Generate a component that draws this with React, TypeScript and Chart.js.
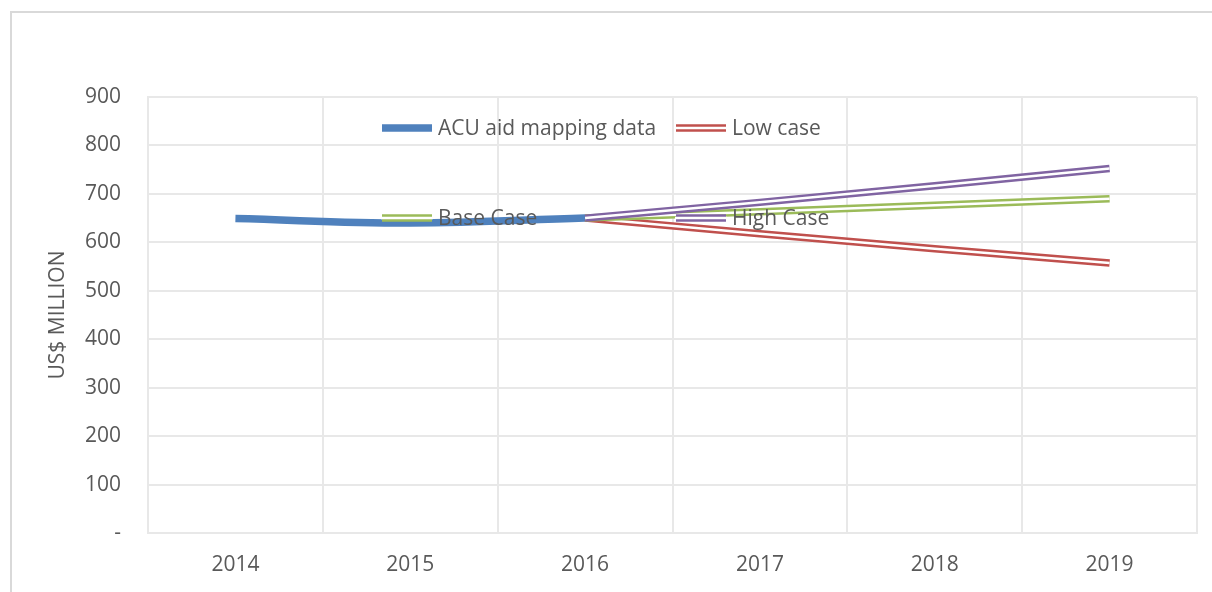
import React, { useEffect, useRef } from 'react';
import { Chart, registerables } from 'chart.js';

Chart.register(...registerables);

// ---- data ----
const years: string[] = ['2014', '2015', '2016', '2017', '2018', '2019'];
const acuAidMapping: (number | null)[] = [649, 640, 650, null, null, null];
const lowCase: (number | null)[] = [null, null, 650, 617.5, 586.6, 557.3];
const baseCase: (number | null)[] = [null, null, 650, 663.0, 676.3, 689.8];
const highCase: (number | null)[] = [null, null, 650, 682.5, 716.6, 752.4];
const yTickValues: number[] = [0, 100, 200, 300, 400, 500, 600, 700, 800, 900];
const seriesNames: string[] = ['ACU aid mapping data', 'Low case', 'Base Case', 'High Case'];
const yTitle = 'US$ MILLION';

// ---- styles ----
const FONT = '"Open Sans", "Liberation Sans", sans-serif';
const FONT_SIZE = 21;
const TEXT = '#595959';
const GRID = '#e8e8e8';
const BLUE = '#4F81BD';
const RED = '#C0504D';
const GREEN = '#9BBB59';
const PURPLE = '#8064A2';
const OUTER_W = 7.5;
const INNER_W = 2.5;

const legendSpec = [
  { name: seriesNames[0], color: BLUE, double: false, x: 382, y: 128 },
  { name: seriesNames[1], color: RED, double: true, x: 676, y: 128 },
  { name: seriesNames[2], color: GREEN, double: true, x: 382, y: 218 },
  { name: seriesNames[3], color: PURPLE, double: true, x: 676, y: 218 },
];

const legendPlugin = {
  id: 'excelLegend',
  afterDatasetsDraw(chart: any) {
    const ctx: CanvasRenderingContext2D = chart.ctx;
    ctx.save();
    ctx.font = `${FONT_SIZE}px ${FONT}`;
    ctx.textBaseline = 'middle';
    ctx.textAlign = 'left';
    legendSpec.forEach((it) => {
      const x0 = it.x;
      const x1 = it.x + 50;
      ctx.lineCap = 'butt';
      ctx.beginPath();
      ctx.moveTo(x0, it.y);
      ctx.lineTo(x1, it.y);
      ctx.strokeStyle = it.color;
      ctx.lineWidth = OUTER_W;
      ctx.stroke();
      if (it.double) {
        ctx.beginPath();
        ctx.moveTo(x0 - 1, it.y);
        ctx.lineTo(x1 + 1, it.y);
        ctx.strokeStyle = '#ffffff';
        ctx.lineWidth = INNER_W;
        ctx.stroke();
      }
      ctx.fillStyle = TEXT;
      ctx.fillText(it.name, x1 + 6, it.y + 1);
    });
    ctx.restore();
  },
};

function doubleLine(label: string, data: (number | null)[], color: string, order: number) {
  return [
    {
      label: label + ' (inner)',
      data,
      borderColor: '#ffffff',
      borderWidth: INNER_W,
      pointRadius: 0,
      tension: 0,
      order,
      borderCapStyle: 'butt',
    },
    {
      label,
      data,
      borderColor: color,
      borderWidth: OUTER_W,
      pointRadius: 0,
      tension: 0,
      order: order + 1,
      borderCapStyle: 'butt',
    },
  ];
}

export default function App() {
  const canvasRef = useRef<HTMLCanvasElement | null>(null);

  useEffect(() => {
    if (!canvasRef.current) return;
    const chart = new Chart(canvasRef.current, {
      type: 'line',
      data: {
        labels: years,
        datasets: [
          ...doubleLine(seriesNames[3], highCase, PURPLE, 0),
          ...doubleLine(seriesNames[2], baseCase, GREEN, 2),
          ...doubleLine(seriesNames[1], lowCase, RED, 4),
          {
            label: seriesNames[0],
            data: acuAidMapping,
            borderColor: BLUE,
            borderWidth: 7.5,
            pointRadius: 0,
            tension: 0.4,
            order: 6,
            borderCapStyle: 'butt',
          },
        ] as any,
      },
      options: {
        animation: false,
        responsive: false,
        maintainAspectRatio: false,
        devicePixelRatio: 1,
        layout: { padding: { left: 0, top: 97, right: 15, bottom: 0 } },
        plugins: {
          legend: { display: false },
          tooltip: { enabled: false },
          title: { display: false },
        },
        scales: {
          x: {
            type: 'category',
            offset: true,
            grid: { display: true, offset: true, color: GRID, lineWidth: 2, drawTicks: false },
            border: { display: true, color: GRID, width: 2 },
            ticks: {
              color: TEXT,
              font: { family: FONT, size: FONT_SIZE },
              padding: 19,
              maxRotation: 0,
            },
            afterFit(scale: any) {
              scale.height = 59;
            },
          },
          y: {
            min: 0,
            max: 900,
            afterBuildTicks(scale: any) {
              scale.ticks = yTickValues.map((v) => ({ value: v }));
            },
            grid: { color: GRID, lineWidth: 2, drawTicks: false },
            border: { display: true, color: GRID, width: 2 },
            ticks: {
              color: TEXT,
              font: { family: FONT, size: FONT_SIZE },
              padding: 27,
              callback: (v: any) => (Number(v) === 0 ? '-' : String(v)),
            },
            title: {
              display: true,
              text: yTitle,
              color: TEXT,
              font: { family: FONT, size: FONT_SIZE },
              padding: { top: 45, bottom: 0 },
            },
            afterFit(scale: any) {
              scale.width = 148;
            },
          },
        },
      },
      plugins: [legendPlugin],
    } as any);
    return () => chart.destroy();
  }, []);

  return (
    <div
      style={{
        position: 'fixed',
        left: 0,
        top: 0,
        width: 1212,
        height: 592,
        overflow: 'hidden',
        background: '#ffffff',
      }}
    >
      <div
        style={{
          position: 'absolute',
          left: 10,
          top: 11,
          width: 1260,
          height: 640,
          border: '2px solid #d9d9d9',
          boxSizing: 'border-box',
        }}
      />
      <canvas
        ref={canvasRef}
        width={1212}
        height={592}
        style={{ position: 'absolute', left: 0, top: 0, width: 1212, height: 592 }}
      />
    </div>
  );
}
